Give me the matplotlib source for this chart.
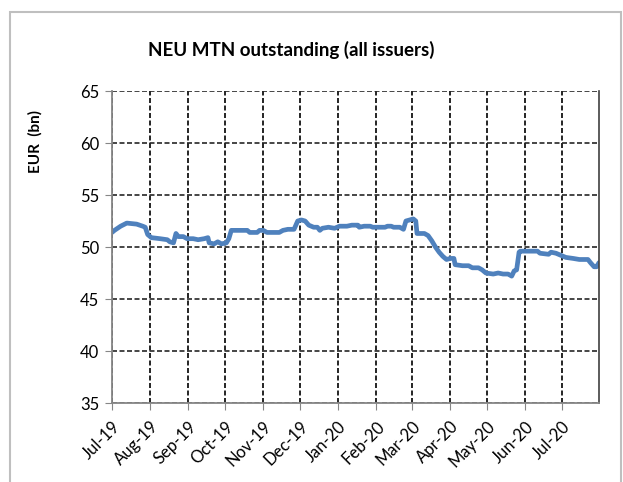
import matplotlib
matplotlib.use("Agg")
import matplotlib.pyplot as plt
import matplotlib.dates as mdates
from matplotlib.patches import Rectangle
import pandas as pd

plt.rcParams['font.family'] = ['Lato', 'DejaVu Sans']

# NEU MTN outstanding, EUR bn
DATES = [
    "2019-07-01", "2019-07-03", "2019-07-08", "2019-07-13", "2019-07-21", "2019-07-26",
    "2019-07-28", "2019-07-30", "2019-08-02", "2019-08-09", "2019-08-15", "2019-08-17",
    "2019-08-20", "2019-08-22", "2019-08-24", "2019-08-28", "2019-08-31", "2019-09-05",
    "2019-09-09", "2019-09-14", "2019-09-17", "2019-09-18", "2019-09-22", "2019-09-25",
    "2019-09-28", "2019-10-02", "2019-10-04", "2019-10-06", "2019-10-12", "2019-10-19",
    "2019-10-21", "2019-10-27", "2019-10-29", "2019-11-01", "2019-11-04", "2019-11-14",
    "2019-11-17", "2019-11-21", "2019-11-26", "2019-11-29", "2019-12-02", "2019-12-05",
    "2019-12-08", "2019-12-12", "2019-12-15", "2019-12-17", "2019-12-19", "2019-12-24",
    "2019-12-29", "2020-01-02", "2020-01-08", "2020-01-12", "2020-01-17", "2020-01-18",
    "2020-01-22", "2020-01-27", "2020-01-29", "2020-02-08", "2020-02-10", "2020-02-13",
    "2020-02-15", "2020-02-20", "2020-02-23", "2020-02-25", "2020-02-28", "2020-03-02",
    "2020-03-04", "2020-03-05", "2020-03-11", "2020-03-14", "2020-03-17", "2020-03-20",
    "2020-03-23", "2020-03-26", "2020-03-29", "2020-04-01", "2020-04-04", "2020-04-05",
    "2020-04-11", "2020-04-16", "2020-04-19", "2020-04-24", "2020-04-27", "2020-04-30",
    "2020-05-06", "2020-05-10", "2020-05-14", "2020-05-18", "2020-05-21", "2020-05-23",
    "2020-05-25", "2020-05-27", "2020-05-28", "2020-06-03", "2020-06-11", "2020-06-13",
    "2020-06-20", "2020-06-22", "2020-06-26", "2020-06-30", "2020-07-04", "2020-07-10",
    "2020-07-15", "2020-07-22", "2020-07-24", "2020-07-27", "2020-07-29", "2020-07-31",
]
OUTSTANDING = [
    51.4, 51.6, 52.0, 52.3, 52.2, 52.0,
    51.9, 51.2, 50.9, 50.8, 50.7, 50.5,
    50.4, 51.3, 51.0, 51.0, 50.8, 50.8,
    50.7, 50.8, 50.9, 50.4, 50.3, 50.5,
    50.3, 50.4, 50.8, 51.6, 51.6, 51.6,
    51.4, 51.4, 51.6, 51.6, 51.4, 51.4,
    51.6, 51.7, 51.7, 52.5, 52.6, 52.5,
    52.1, 51.9, 51.9, 51.6, 51.8, 51.9,
    51.8, 52.0, 52.0, 52.1, 52.1, 51.9,
    52.0, 52.0, 51.9, 51.9, 52.0, 52.0,
    51.9, 51.9, 51.7, 52.5, 52.6, 52.7,
    52.5, 51.3, 51.3, 51.1, 50.6, 50.0,
    49.5, 49.1, 48.8, 48.9, 48.9, 48.3,
    48.2, 48.2, 48.0, 48.0, 47.8, 47.5,
    47.4, 47.5, 47.4, 47.4, 47.2, 47.7,
    47.8, 49.5, 49.6, 49.6, 49.6, 49.4,
    49.3, 49.5, 49.4, 49.2, 49.0, 48.9,
    48.8, 48.8, 48.5, 48.1, 48.1, 48.5,
]

dates = pd.to_datetime(DATES)

fig = plt.figure(figsize=(6.23, 4.82), dpi=100)
ax = fig.add_axes([0.1798, 0.1639, 0.7817, 0.6473])

# outer chart frame
fig.patches.append(Rectangle((10 / 623, -0.05), 611 / 623, 1 - 12 / 482 + 0.05,
                             transform=fig.transFigure, fill=False,
                             edgecolor='#BFBFBF', linewidth=1.5))

ax.plot(dates, OUTSTANDING, color='#4F81BD', linewidth=3.4, solid_joinstyle='round',
        solid_capstyle='round')

ax.set_ylim(35, 65)
ax.set_yticks(range(35, 66, 5))
ax.set_xlim(pd.Timestamp("2019-07-01"), pd.Timestamp("2020-07-31"))
ax.xaxis.set_major_locator(mdates.MonthLocator())
ax.xaxis.set_major_formatter(mdates.DateFormatter('%b-%y'))
for lab in ax.get_xticklabels():
    lab.set_rotation(45)
    lab.set_ha('right')
    lab.set_rotation_mode('anchor')

ax.grid(True, axis='x', color='black', linestyle=(0, (3, 1.5)), linewidth=1.2)
ax.grid(True, axis='y', color='#262626', linestyle=(0, (3, 1.5)), linewidth=1.2)
ax.set_axisbelow(True)
ax.tick_params(axis='both', direction='out', length=5, color='#868686',
               labelsize=12, labelcolor='black')
ax.tick_params(axis='y', pad=4)
ax.tick_params(axis='x', pad=6)

for side in ['left', 'bottom']:
    ax.spines[side].set_color('#868686')
    ax.spines[side].set_linewidth(1.3)
ax.spines['right'].set_color('#404040')
ax.spines['right'].set_linewidth(1.2)
ax.spines['top'].set_visible(False)

fig.text(291 / 623, 1 - 50 / 482, 'NEU MTN outstanding (all issuers)', ha='center', va='center',
         fontsize=13.5, fontweight='bold')
fig.text(35 / 623, 1 - 141 / 482, 'EUR  (bn)', ha='center', va='center', rotation=90,
         fontsize=11, fontweight='bold')

fig.savefig('out.png', dpi=100)
